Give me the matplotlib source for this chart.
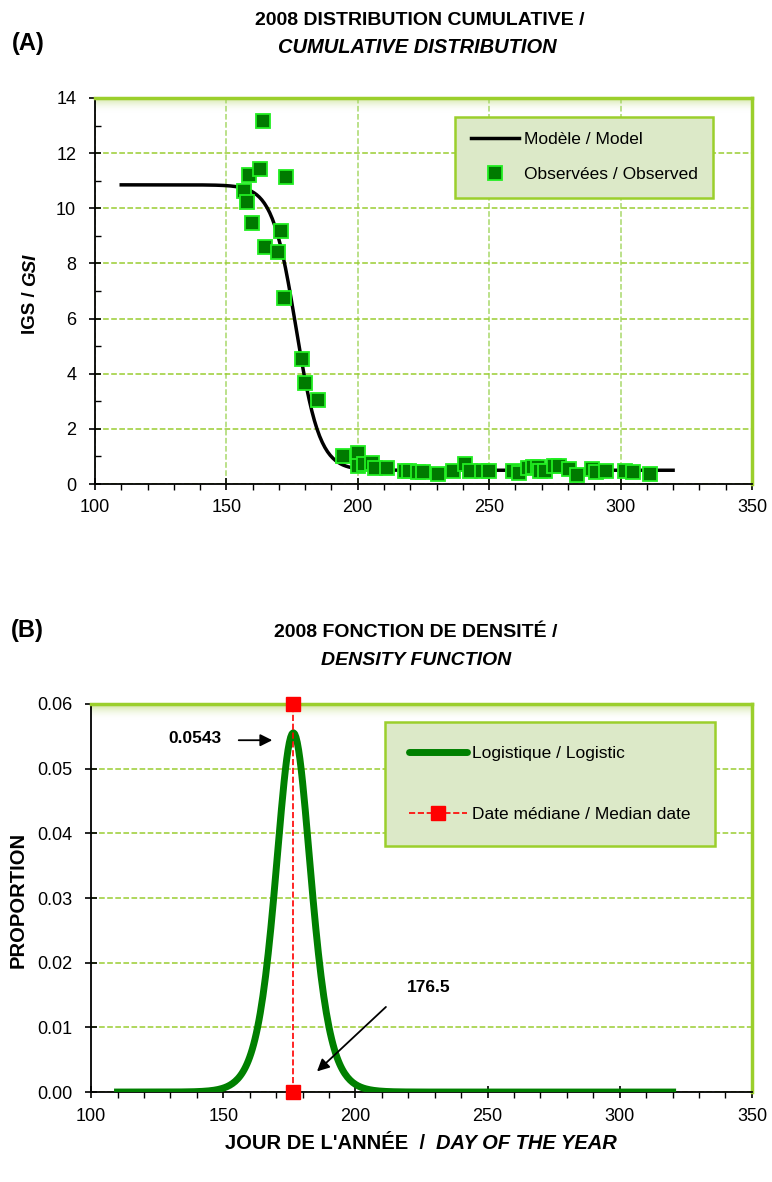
import numpy as np
import matplotlib
matplotlib.use("Agg")
import matplotlib.pyplot as plt
from matplotlib.lines import Line2D

plt.rcParams['font.family'] = ['Liberation Sans Narrow', 'Liberation Sans', 'DejaVu Sans']

# Observed GSI values (day of year, GSI)
obs_day = [164.0, 158.6, 162.8, 172.7, 156.7, 158.0, 159.9, 170.8, 164.7, 169.5,
           172.0, 178.6, 179.9, 184.7,
           194.5, 200.1, 200.2, 202.4, 205.3, 206.5, 211.0, 218.0, 219.5, 223.0,
           224.9, 230.4, 236.3, 240.8, 242.7, 247.1,
           250.0, 259.2, 261.5, 264.9, 266.8, 268.7, 269.3, 271.2, 274.7, 276.7,
           280.5, 283.5, 289.0, 290.6, 294.4, 301.7, 304.8, 311.4]
obs_igs = [13.17, 11.20, 11.43, 11.14, 10.63, 10.22, 9.46, 9.18, 8.59, 8.42,
           6.75, 4.55, 3.68, 3.04,
           1.00, 1.13, 0.67, 0.73, 0.77, 0.59, 0.59, 0.49, 0.47, 0.43,
           0.43, 0.37, 0.49, 0.71, 0.49, 0.49,
           0.49, 0.46, 0.41, 0.59, 0.61, 0.61, 0.46, 0.49, 0.65, 0.67,
           0.53, 0.34, 0.55, 0.43, 0.49, 0.49, 0.43, 0.37]

# Fitted logistic model parameters
median_day = 176.5
peak_label = "0.0543"
logis_scale = 4.5
igs_high = 10.85
igs_low = 0.5
model_days = np.arange(110, 320.5, 0.5)

z = (model_days - median_day) / logis_scale
model_igs = igs_low + (igs_high - igs_low) / (1 + np.exp(z))
density = np.exp(z) / (logis_scale * (1 + np.exp(z)) ** 2)

median_x = [median_day, median_day]
median_y = [0.0, 0.06]

GRID = '#9ACD32'
BORDER = '#9BCF2C'


def style_axes(ax, vgrid, xpad):
    for side in ['left', 'bottom']:
        ax.spines[side].set_color('black')
        ax.spines[side].set_linewidth(1.3)
    for side in ['top', 'right']:
        ax.spines[side].set_color(BORDER)
        ax.spines[side].set_linewidth(2.5)
    ax.yaxis.grid(True, linestyle='--', color=GRID, linewidth=1.1)
    if vgrid:
        ax.xaxis.grid(True, linestyle='--', color='#A8D86A', linewidth=1.1)
    ax.set_axisbelow(True)
    # soft green band below top border
    grad = np.linspace(0, 1, 50).reshape(-1, 1)
    cmap = matplotlib.colors.LinearSegmentedColormap.from_list(
        'g', [(1, 1, 1, 0), (0.78, 0.88, 0.55, 0.9)])
    ax.imshow(grad, extent=[0, 1, 0.96, 1], transform=ax.transAxes,
              aspect='auto', cmap=cmap, origin='lower', zorder=0.5)
    ax.set_xlim(100, 350)
    ax.set_xticks([100, 150, 200, 250, 300, 350])
    ax.set_xticks(np.arange(100, 351, 10), minor=True)
    ax.tick_params(axis='x', which='major', direction='inout', length=9, width=1.2,
                   labelsize=13, pad=xpad)
    ax.tick_params(axis='x', which='minor', direction='out', length=4, width=1)
    ax.tick_params(axis='y', which='major', direction='inout', length=9, width=1.2,
                   labelsize=13, pad=9)
    ax.tick_params(axis='y', which='minor', direction='in', length=4, width=1)


def style_legend(leg):
    frame = leg.get_frame()
    frame.set_facecolor('#DCE9C8')
    frame.set_edgecolor(BORDER)
    frame.set_linewidth(1.8)


fig = plt.figure(figsize=(7.72, 11.82), dpi=100)

# ---- (A) cumulative distribution ----
ax1 = fig.add_axes([0.123, 0.5905, 0.851, 0.3266])
style_axes(ax1, True, 6)
ax1.plot(model_days, model_igs, color='black', linewidth=2.5, zorder=3)
ax1.plot(obs_day, obs_igs, linestyle='none', marker='s', markersize=9.5,
         markerfacecolor='#007A00', markeredgecolor='#22EE22', markeredgewidth=1.3, zorder=4)
ax1.set_ylim(0, 14)
ax1.set_yticks(np.arange(0, 15, 2))
ax1.set_yticks(np.arange(0, 15, 1), minor=True)

leg1_handles = [
    Line2D([], [], color='black', linewidth=2.5),
    Line2D([], [], linestyle='none', marker='s', markersize=9.5,
           markerfacecolor='#007A00', markeredgecolor='#22EE22', markeredgewidth=1.3),
]
leg1 = ax1.legend(leg1_handles, ['Modèle / Model', 'Observées / Observed'],
                  loc='upper left', bbox_to_anchor=(0.548, 0.952), borderaxespad=0,
                  fontsize=12.5, frameon=True, fancybox=False, framealpha=1,
                  borderpad=0.9, labelspacing=1.15, handlelength=2.8, handletextpad=0.25)
style_legend(leg1)

# ---- (B) density function ----
ax2 = fig.add_axes([0.118, 0.0761, 0.856, 0.3283])
style_axes(ax2, False, 7)
ax2.plot(model_days, density, color='#008000', linewidth=5, zorder=3)
ax2.plot(median_x, median_y, color='red', linestyle='--', linewidth=1.2,
         marker='s', markersize=10, clip_on=False, zorder=5)
ax2.set_ylim(0, 0.06)
ax2.set_yticks(np.arange(0, 0.061, 0.01))
ax2.yaxis.set_major_formatter(matplotlib.ticker.FormatStrFormatter('%.2f'))

leg2_handles = [
    Line2D([], [], color='#008000', linewidth=5, solid_capstyle='round'),
    Line2D([], [], color='red', linestyle='--', linewidth=1.2, marker='s', markersize=10),
]
leg2 = ax2.legend(leg2_handles, ['Logistique / Logistic', 'Date médiane / Median date'],
                  loc='upper left', bbox_to_anchor=(0.445, 0.954), borderaxespad=0,
                  fontsize=12.5, frameon=True, fancybox=False, framealpha=1,
                  borderpad=1.4, labelspacing=2.6, handlelength=3.3, handletextpad=0.3)
style_legend(leg2)

ax2.annotate('', xy=(169.6, 0.0544), xytext=(154.8, 0.0544),
             arrowprops=dict(arrowstyle='-|>', color='black', lw=1.3, mutation_scale=18))
ax2.text(139.1, 0.0546, peak_label, ha='center', va='center', fontsize=12.5, fontweight='bold')
ax2.annotate('', xy=(184.7, 0.0029), xytext=(212.3, 0.01345),
             arrowprops=dict(arrowstyle='-|>', color='black', lw=1.3, mutation_scale=18))
ax2.text(227.8, 0.0161, f'{median_day}', ha='center', va='center', fontsize=12.5,
         fontweight='bold')

# ---- titles and axis labels ----
fig.text(0.036, 0.9628, '(A)', ha='center', va='center', fontsize=17, fontweight='bold')
fig.text(0.544, 0.983, '2008 DISTRIBUTION CUMULATIVE /', ha='center', va='center',
         fontsize=14, fontweight='bold')
fig.text(0.541, 0.9594, 'CUMULATIVE DISTRIBUTION', ha='center', va='center',
         fontsize=14.5, fontweight='bold', style='italic')

fig.text(0.036, 0.467, '(B)', ha='center', va='center', fontsize=17, fontweight='bold')
fig.text(0.539, 0.4645, '2008 FONCTION DE DENSITÉ /', ha='center', va='center',
         fontsize=14, fontweight='bold')
fig.text(0.539, 0.4408, 'DENSITY FUNCTION', ha='center', va='center',
         fontsize=14, fontweight='bold', style='italic')

# y label (A): "IGS / " bold + "GSI" bold italic
fig.text(0.039, 0.758, 'IGS / ', rotation=90, rotation_mode='anchor',
         ha='right', va='center', fontsize=13.5, fontweight='bold')
fig.text(0.039, 0.758, 'GSI', rotation=90, rotation_mode='anchor',
         ha='left', va='center', fontsize=13.5, fontweight='bold', style='italic')

fig.text(0.023, 0.2386, 'PROPORTION', rotation=90, ha='center', va='center',
         fontsize=14.5, fontweight='bold')

fig.text(0.565, 0.0325, "JOUR DE L'ANNÉE  /  ", ha='right', va='center',
         fontsize=14.5, fontweight='bold')
fig.text(0.565, 0.0325, 'DAY OF THE YEAR', ha='left', va='center',
         fontsize=14.5, fontweight='bold', style='italic')

fig.savefig('out.png', dpi=100)
